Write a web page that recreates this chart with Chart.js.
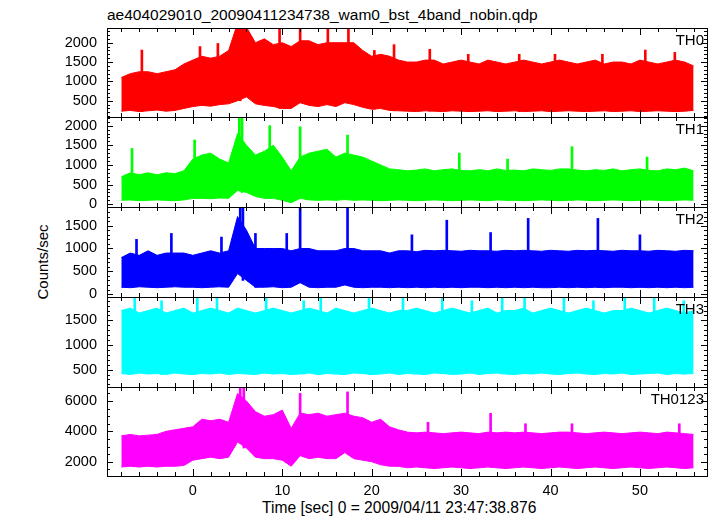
<!DOCTYPE html>
<html>
<head>
<meta charset="utf-8">
<script src="https://cdn.jsdelivr.net/npm/chart.js@4.4.1/dist/chart.umd.min.js"></script>
<style>
  body { margin: 0; background: #fff; }
  #wrap { position: relative; width: 717px; height: 516px; overflow: hidden;
          font-family: "Liberation Sans", Arial, sans-serif; color: #000; }
  #wrap canvas { position: absolute; left: 0; }
  .lbl { position: absolute; font-size: 15.5px; white-space: nowrap; line-height: 1; }
  .tag { position: absolute; right: 13px; font-size: 15px; line-height: 1; transform: translateY(-50%); }
</style>
</head>
<body>
<div id="wrap">
  <div class="lbl" style="left:107px; top:7px;">ae404029010_20090411234738_wam0_bst_4band_nobin.qdp</div>
  <div class="lbl" style="left:42px; top:262px; font-size:15px; transform: translate(-50%, -50%) rotate(-90deg);">Counts/sec</div>
  <div class="lbl" style="left:262px; top:500px; font-size:15.6px;">Time [sec] 0 = 2009/04/11 23:47:38.876</div>
</div>
<script>
// time of each 1 s bin [sec]
const times = [-8, -7, -6, -5, -4, -3, -2, -1, 0, 1, 2, 3, 4, 5, 6, 7, 8, 9, 10, 11, 12, 13, 14, 15, 16,
  17, 18, 19, 20, 21, 22, 23, 24, 25, 26, 27, 28, 29, 30, 31, 32, 33, 34, 35, 36, 37, 38, 39, 40, 41,
  42, 43, 44, 45, 46, 47, 48, 49, 50, 51, 52, 53, 54, 55, 56];

// upper / lower envelope of the dense part of each light curve
const th0Hi = [1100, 1200, 1250, 1250, 1200, 1250, 1300, 1450,
  1550, 1650, 1600, 1650, 1800, 2500, 2400, 2000,
  2100, 1950, 2000, 1900, 2050, 2050, 1950, 2000,
  2000, 2000, 2000, 1800, 1650, 1700, 1650, 1550,
  1500, 1500, 1550, 1550, 1450, 1500, 1550, 1500,
  1450, 1550, 1500, 1450, 1500, 1550, 1500, 1450,
  1500, 1550, 1500, 1450, 1500, 1550, 1450, 1500,
  1500, 1450, 1550, 1500, 1450, 1500, 1550, 1500, 1400];
const th0Lo = [230, 250, 220, 240, 260, 230, 250, 300,
  350, 380, 360, 400, 420, 500, 600, 420,
  380, 350, 300, 300, 450, 380, 350, 400,
  350, 450, 400, 330, 280, 300, 250, 240,
  230, 220, 240, 230, 220, 240, 230, 220,
  230, 240, 220, 230, 240, 220, 230, 240,
  220, 230, 240, 230, 220, 230, 240, 220,
  230, 240, 220, 230, 240, 230, 220, 230, 250];

const th1Hi = [700, 800, 750, 800, 750, 800, 780, 850,
  1150, 1250, 1300, 1150, 1050, 1800, 1500, 1250,
  1350, 1500, 1200, 850, 1200, 1300, 1350, 1400,
  1200, 1300, 1250, 1200, 1100, 1000, 900, 880,
  850, 870, 900, 850, 880, 900, 860, 850,
  880, 850, 900, 860, 870, 850, 900, 880,
  860, 900, 900, 870, 850, 880, 860, 900,
  850, 880, 900, 860, 850, 900, 880, 920, 850];
const th1Lo = [100, 110, 90, 100, 110, 100, 90, 110,
  150, 150, 140, 160, 150, 350, 300, 200,
  150, 150, 100, 40, 150, 110, 100, 110,
  100, 120, 100, 110, 100, 90, 100, 110,
  100, 90, 100, 110, 100, 90, 100, 110,
  100, 90, 110, 100, 100, 90, 100, 110,
  100, 90, 100, 110, 100, 90, 100, 110,
  100, 90, 100, 110, 100, 90, 100, 110, 100];

const th2Hi = [800, 900, 850, 950, 850, 900, 900, 900,
  850, 900, 950, 900, 950, 1700, 1400, 1000,
  1000, 1000, 1000, 950, 1000, 1000, 950, 950,
  950, 1000, 1000, 950, 950, 950, 900, 950,
  950, 930, 960, 950, 960, 950, 940, 960,
  950, 950, 940, 960, 950, 960, 950, 940,
  960, 950, 940, 960, 950, 960, 950, 940,
  960, 950, 950, 940, 960, 950, 940, 960, 950];
const th2Lo = [150, 140, 160, 150, 140, 150, 160, 150,
  150, 140, 150, 160, 150, 450, 300, 150,
  150, 160, 140, 150, 250, 150, 140, 150,
  150, 200, 150, 140, 150, 150, 140, 150,
  140, 150, 140, 150, 140, 150, 140, 150,
  150, 140, 150, 140, 150, 140, 150, 140,
  140, 150, 140, 150, 140, 150, 140, 150,
  150, 140, 150, 140, 150, 140, 150, 140, 150];

const th3Hi = [1700, 1750, 1650, 1700, 1750, 1650, 1700, 1750,
  1650, 1700, 1750, 1700, 1650, 1750, 1700, 1650,
  1700, 1750, 1700, 1650, 1700, 1750, 1700, 1650,
  1750, 1700, 1650, 1700, 1750, 1700, 1650, 1700,
  1700, 1750, 1700, 1650, 1700, 1750, 1700, 1650,
  1700, 1750, 1650, 1700, 1700, 1750, 1650, 1700,
  1750, 1700, 1650, 1700, 1750, 1700, 1650, 1700,
  1700, 1750, 1700, 1650, 1700, 1750, 1700, 1650, 1700];
const th3Lo = [420, 400, 430, 410, 420, 400, 430, 410,
  400, 420, 410, 430, 400, 420, 410, 400,
  430, 410, 420, 400, 410, 430, 400, 420,
  410, 400, 430, 420, 400, 410, 430, 400,
  420, 410, 400, 430, 420, 400, 410, 430,
  400, 420, 430, 410, 400, 420, 410, 430,
  410, 400, 420, 430, 410, 400, 420, 410,
  430, 400, 410, 420, 430, 400, 420, 410, 420];

const th0123Hi = [3700, 3800, 3700, 3750, 3800, 4000, 4100, 4200,
  4300, 4800, 4700, 4800, 4600, 6500, 6000, 5300,
  5000, 5100, 5400, 4200, 5200, 5100, 5200, 5000,
  5100, 5200, 5000, 4900, 4600, 4800, 4300, 4100,
  3950, 3900, 3950, 3900, 3850, 3900, 3950, 3900,
  3850, 3950, 3900, 3950, 3900, 3950, 3900, 3850,
  3900, 3950, 3950, 3900, 3850, 3900, 3950, 3900,
  3850, 3900, 3950, 3900, 3850, 3950, 3900, 3850, 3800];
const th0123Lo = [1650, 1700, 1650, 1700, 1650, 1700, 1700, 1750,
  2100, 2200, 2300, 2200, 2300, 3300, 2900, 2300,
  2200, 2200, 2100, 1700, 2400, 2200, 2300, 2200,
  2200, 2600, 2200, 2100, 2000, 1800, 1700, 1700,
  1600, 1650, 1600, 1550, 1600, 1650, 1600, 1550,
  1600, 1650, 1600, 1550, 1600, 1650, 1600, 1550,
  1600, 1650, 1600, 1550, 1600, 1650, 1600, 1550,
  1600, 1650, 1600, 1550, 1600, 1650, 1600, 1550, 1600];

// individual narrow spikes standing out above the dense band: time [sec] and peak rate
const th0SpikeT = [-5.7, 0.8, 2.8, 5.3, 5.7, 9.7, 12.0, 15.1, 17.4, 20.3, 22.5, 26.5, 30.8, 36.5, 40.5, 45.8, 50.6, 53.9];
const th0SpikeV = [1810, 1900, 1980, 2400, 2400, 2370, 2400, 2370, 2400, 1800, 1950, 1830, 1700, 1700, 1700, 1700, 1810, 1750];
const th1SpikeT = [-6.8, 0.2, 5.2, 5.5, 8.6, 12.0, 17.3, 29.8, 42.4, 35.2, 50.8];
const th1SpikeV = [1420, 1635, 2230, 2230, 2000, 1970, 1760, 1300, 1465, 1150, 1200];
const th2SpikeT = [-6.3, -2.4, 3.2, 5.3, 5.6, 7.0, 10.5, 12.0, 17.3, 24.5, 28.4, 33.3, 37.5, 45.3, 50.0];
const th2SpikeV = [1200, 1330, 1250, 1910, 1910, 1330, 1330, 1910, 1910, 1300, 1620, 1350, 1660, 1660, 1300];
const th3SpikeT = [-6.5, -3.5, 0.5, 2.7, 8.2, 12.4, 14.3, 19.7, 23.5, 27.9, 31.2, 34.6, 37.1, 41.5, 44.8, 48.3, 51.6, 54.9];
const th3SpikeV = [1970, 1900, 1970, 1950, 1970, 1900, 1970, 1950, 1970, 1970, 1900, 1970, 1950, 1970, 1900, 1970, 1950, 1900];
const th0123SpikeT = [5.3, 5.7, 12.0, 17.3, 26.3, 33.3, 37.2, 42.4, 54.4];
const th0123SpikeV = [6920, 6920, 6500, 6600, 4600, 5190, 4500, 4500, 4500];

const xMin = -9.6, xMax = 57.5;

const panels = [
  { name: 'TH0',    color: '#ff0000', hi: th0Hi,    lo: th0Lo,    st: th0SpikeT,    sv: th0SpikeV,    min: 80,   max: 2380, minor: 100, major: 500,  top: 28,  bottom: 117 },
  { name: 'TH1',    color: '#00ff00', hi: th1Hi,    lo: th1Lo,    st: th1SpikeT,    sv: th1SpikeV,    min: -70,  max: 2220, minor: 100, major: 500,  top: 117, bottom: 207 },
  { name: 'TH2',    color: '#0000ff', hi: th2Hi,    lo: th2Lo,    st: th2SpikeT,    sv: th2SpikeV,    min: -64,  max: 1910, minor: 100, major: 500,  top: 207, bottom: 297 },
  { name: 'TH3',    color: '#00ffff', hi: th3Hi,    lo: th3Lo,    st: th3SpikeT,    sv: th3SpikeV,    min: 146,  max: 1976, minor: 100, major: 500,  top: 297, bottom: 387 },
  { name: 'TH0123', color: '#ff00ff', hi: th0123Hi, lo: th0123Lo, st: th0123SpikeT, sv: th0123SpikeV, min: 1058, max: 6923, minor: 500, major: 2000, top: 387, bottom: 476 }
];

const tickFont = { family: '"Liberation Sans", Arial, sans-serif', size: 14.5 };

// tick values at every multiple of step inside [lo, hi]
function stepTicks(lo, hi, step) {
  const out = [];
  for (let v = Math.ceil(lo / step) * step; v <= hi + 1e-9; v += step) out.push({ value: v });
  return out;
}

// frame plus inward qdp-style tick marks on all four sides
const frameTicks = {
  id: 'frameTicks',
  afterDatasetsDraw(chart, args, opts) {
    const { ctx, chartArea: a, scales } = chart;
    const p = opts.panel;
    ctx.save();
    ctx.strokeStyle = '#000';
    ctx.lineWidth = 1;
    ctx.strokeRect(a.left + 0.5, a.top + 0.5, a.right - a.left, a.bottom - a.top);
    ctx.beginPath();
    stepTicks(xMin, xMax, 2).forEach(({ value: v }) => {
      const px = Math.round(scales.x.getPixelForValue(v)) + 0.5;
      const len = v % 10 === 0 ? 7 : 4;
      ctx.moveTo(px, a.top); ctx.lineTo(px, a.top + len);
      ctx.moveTo(px, a.bottom); ctx.lineTo(px, a.bottom - len);
    });
    stepTicks(p.min, p.max, p.minor).forEach(({ value: v }) => {
      const py = Math.round(scales.y.getPixelForValue(v)) + 0.5;
      const len = v % p.major === 0 ? 6 : 3;
      ctx.moveTo(a.left, py); ctx.lineTo(a.left + len, py);
      ctx.moveTo(a.right, py); ctx.lineTo(a.right - len, py);
    });
    ctx.stroke();
    ctx.restore();
  }
};

const wrap = document.getElementById('wrap');

panels.forEach((p, i) => {
  const last = i === panels.length - 1;
  const top = p.top - 20;
  const height = last ? 516 - top : (p.bottom - p.top) + 40;

  const canvas = document.createElement('canvas');
  canvas.width = 717;
  canvas.height = height;
  canvas.style.top = top + 'px';
  wrap.appendChild(canvas);

  const tag = document.createElement('div');
  tag.className = 'tag';
  tag.style.top = (p.top + 11) + 'px';
  tag.textContent = p.name;
  wrap.appendChild(tag);

  new Chart(canvas, {
    type: 'line',
    data: {
      datasets: [{
        type: 'bar',
        data: p.st.map((t, k) => ({ x: t, y: [p.lo[times.indexOf(Math.round(t))], p.sv[k]] })),
        backgroundColor: p.color,
        barThickness: 2,
        grouped: false
      }, {
        data: times.map((t, k) => ({ x: t, y: p.lo[k] })),
        borderColor: p.color,
        borderWidth: 1,
        pointRadius: 0,
        fill: false
      }, {
        data: times.map((t, k) => ({ x: t, y: p.hi[k] })),
        borderColor: p.color,
        backgroundColor: p.color,
        borderWidth: 1,
        pointRadius: 0,
        fill: '-1'
      }]
    },
    options: {
      responsive: false,
      animation: false,
      events: [],
      layout: { padding: { top: 20, bottom: last ? 0 : 20, left: 0, right: 10 } },
      plugins: {
        legend: { display: false },
        tooltip: { enabled: false },
        frameTicks: { panel: p }
      },
      scales: {
        x: {
          type: 'linear',
          min: xMin,
          max: xMax,
          offset: false,
          display: last,
          grid: { display: false, drawTicks: false },
          border: { display: false },
          afterBuildTicks: s => { s.ticks = stepTicks(xMin, xMax, 10); },
          ticks: {
            autoSkip: false,
            maxRotation: 0,
            padding: 6,
            color: '#000',
            font: tickFont,
            callback: v => String(v)
          },
          afterFit: s => { if (last) s.height = 40; }
        },
        y: {
          min: p.min,
          max: p.max,
          grid: { display: false, drawTicks: false },
          border: { display: false },
          afterBuildTicks: s => { s.ticks = stepTicks(p.min, p.max, p.major); },
          ticks: {
            autoSkip: false,
            padding: 10,
            color: '#000',
            font: tickFont,
            callback: v => String(v)
          },
          afterFit: s => { s.width = 107; }
        }
      }
    },
    plugins: [frameTicks]
  });
});
</script>
</body>
</html>
